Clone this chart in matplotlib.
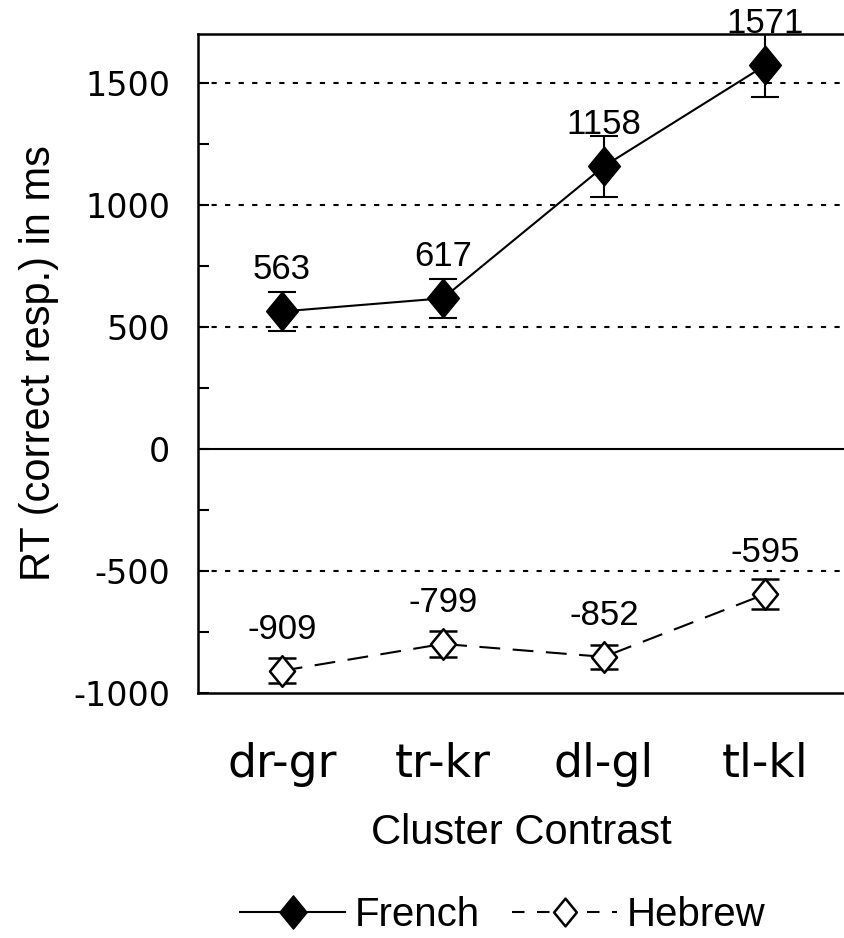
import matplotlib
matplotlib.use('Agg')
import matplotlib.pyplot as plt
from matplotlib.path import Path
from matplotlib.lines import Line2D

plt.rcParams['axes.unicode_minus'] = False

# Данные
clusters = ['dr-gr', 'tr-kr', 'dl-gl', 'tl-kl']
french = [563, 617, 1158, 1571]
french_err = [78, 80, 125, 128]
hebrew = [-909, -799, -852, -595]
hebrew_err = [52, 54, 48, 62]

narrow = ['Liberation Sans', 'DejaVu Sans']

fig = plt.figure(figsize=(8.44, 9.38), dpi=100)
ax = fig.add_axes([0.2346, 0.2612, 0.7654, 0.7026])

x = list(range(len(clusters)))

# Маркер-ромб чуть выше, чем шире
diamond = Path([(0, 1), (0.82, 0), (0, -1), (-0.82, 0), (0, 1)],
               [Path.MOVETO, Path.LINETO, Path.LINETO, Path.LINETO, Path.CLOSEPOLY])
dash_style = (0, (10, 6))

# Сетка
for yv in [-500, 500, 1000, 1500]:
    ax.axhline(yv, color='black', lw=1.5, ls=(0, (2.5, 4)), zorder=1)
ax.axhline(0, color='black', lw=1.5, zorder=1)

ax.errorbar(x, french, yerr=french_err, color='black', lw=1.5, marker=diamond,
            ms=28, mfc='black', mec='black', capsize=10, capthick=1.5,
            elinewidth=1.5, zorder=3)
ax.errorbar(x, hebrew, yerr=hebrew_err, color='black', lw=1.5, ls=dash_style,
            marker=diamond, ms=22, mfc='white', mec='black', mew=1.8,
            capsize=10, capthick=1.5, elinewidth=1.5, zorder=3)

for xi, v in zip(x, french):
    ax.annotate(str(v), (xi, v), xytext=(0, 30), textcoords='offset points',
                ha='center', va='center', fontsize=25, family=narrow)
for xi, v in zip(x, hebrew):
    ax.annotate(str(v), (xi, v), xytext=(0, 30), textcoords='offset points',
                ha='center', va='center', fontsize=25, family=narrow)

ax.set_xlim(-0.52, 3.49)
ax.set_ylim(-1000, 1700)
ax.set_yticks([-1000, -500, 0, 500, 1000, 1500])
ax.set_yticks(range(-750, 1700, 500), minor=True)
ax.tick_params(axis='y', which='both', direction='in', length=8, width=1.5,
               labelsize=24, pad=20)
ax.set_xticks(x)
ax.set_xticklabels(clusters, fontsize=33, family='DejaVu Sans')
ax.tick_params(axis='x', length=0, pad=35)

for s in ['left', 'top', 'bottom']:
    ax.spines[s].set_linewidth(1.8)
ax.spines['right'].set_visible(False)

ax.set_ylabel('RT (correct resp.) in ms', fontsize=30, family=narrow)
ax.yaxis.set_label_coords(-0.215, 0.5)
ax.set_xlabel('Cluster Contrast', fontsize=30, family=narrow, va='center')
ax.xaxis.set_label_coords(0.5, -0.213)

handles = [
    Line2D([], [], color='black', lw=1.5, marker=diamond, ms=24,
           mfc='black', mec='black'),
    Line2D([], [], color='black', lw=1.5, ls=(0, (6, 6)), marker=diamond,
           ms=20, mfc='white', mec='black', mew=1.8),
]
fig.legend(handles, ['French', 'Hebrew'], loc='center',
           bbox_to_anchor=(0.596, 0.0245), ncol=2, frameon=False,
           prop={'family': narrow, 'size': 29}, handlelength=2.6,
           handletextpad=0.25, columnspacing=0.8)

fig.savefig('out.png', dpi=100)
